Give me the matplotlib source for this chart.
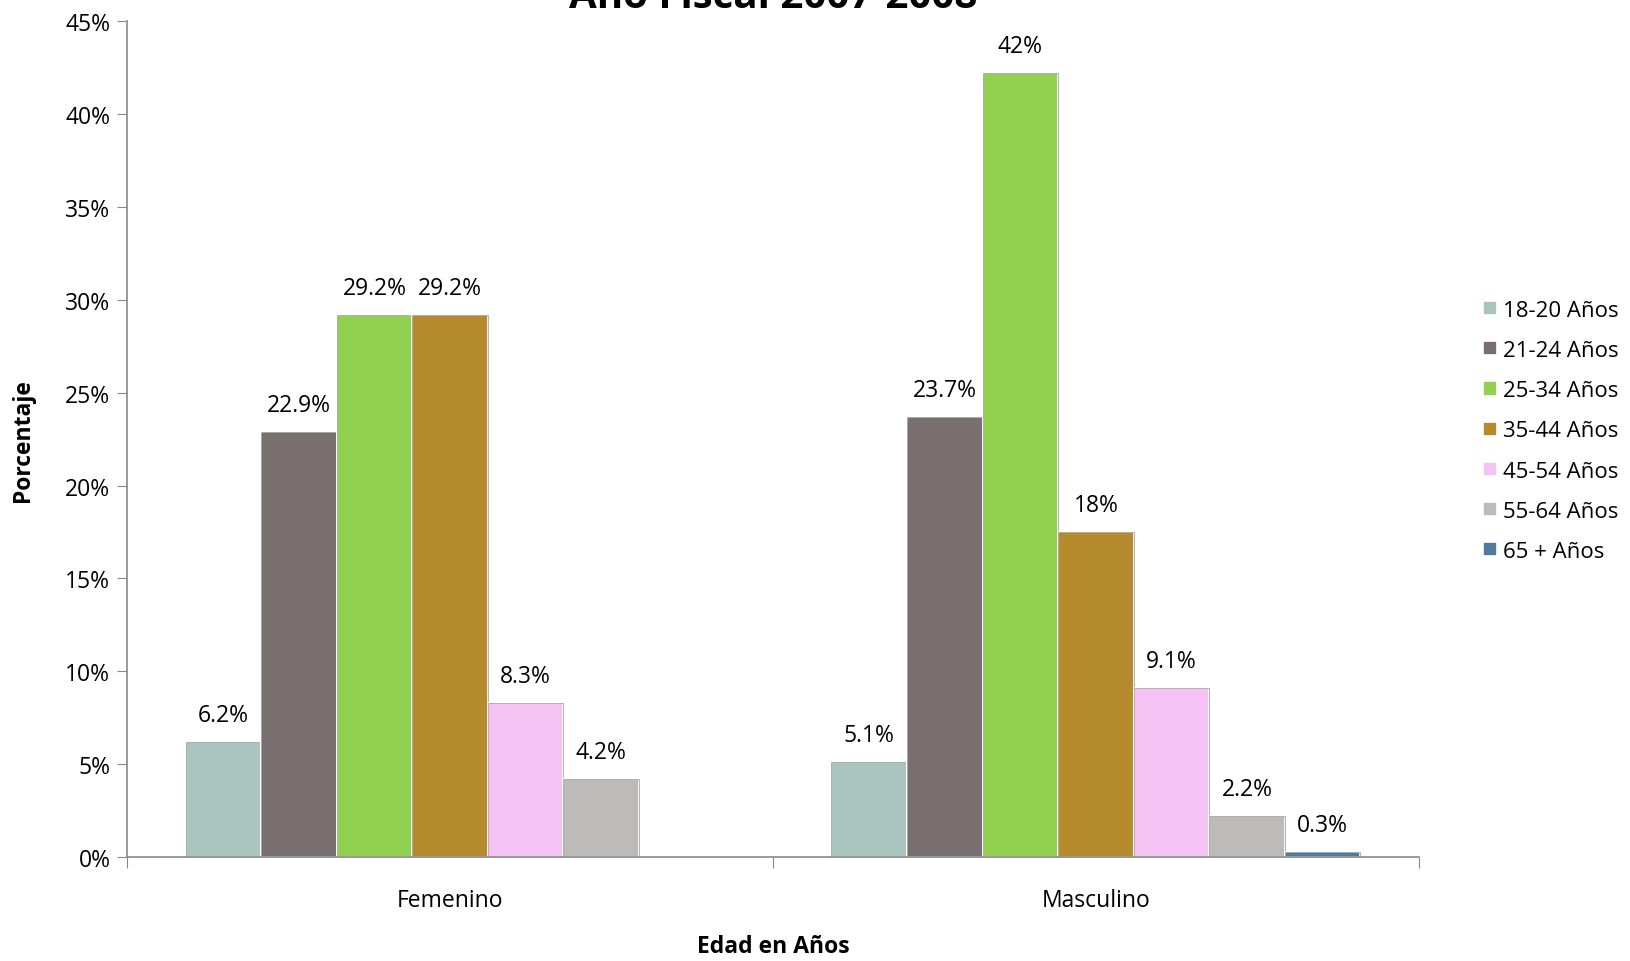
import numpy as np
import matplotlib
matplotlib.use('Agg')
import matplotlib.pyplot as plt
from matplotlib.ticker import MultipleLocator, FuncFormatter

plt.rcParams['font.family'] = ['Open Sans', 'DejaVu Sans']

# Datos
generos = ["Femenino", "Masculino"]
grupos = ["18-20 Años", "21-24 Años", "25-34 Años", "35-44 Años",
          "45-54 Años", "55-64 Años", "65 + Años"]
femenino = [6.2, 22.9, 29.2, 29.2, 8.3, 4.2, 0.0]
masculino = [5.1, 23.7, 42.2, 17.5, 9.1, 2.2, 0.3]
etiquetas_fem = ["6.2%", "22.9%", "29.2%", "29.2%", "8.3%", "4.2%", ""]
etiquetas_mas = ["5.1%", "23.7%", "42%", "18%", "9.1%", "2.2%", "0.3%"]
colores = ["#A9C4BF", "#7A6F6F", "#92D050", "#B58B2E",
           "#F5C3F3", "#BDBBB8", "#4F7BA0"]

FS = 16.5

fig = plt.figure(figsize=(16.31, 9.62), dpi=100)
ax = fig.add_axes([0.0779, 0.108, 0.792, 0.869])

x = np.arange(len(generos))
ancho = 0.117
valores = np.array([femenino, masculino])
etiquetas = [etiquetas_fem, etiquetas_mas]

for i, (grupo, color) in enumerate(zip(grupos, colores)):
    pos = x + (i - 3) * ancho
    barras = ax.bar(pos, valores[:, i], ancho, color=color, label=grupo,
                    edgecolor="#FFFFFF", linewidth=1.2)
    # contorno sombreado estilo bisel
    ax.bar(pos, valores[:, i], ancho, fill=False, edgecolor="#6E6E6E",
           linewidth=0.6, alpha=0.6)
    for b, et in zip(barras, [etiquetas[0][i], etiquetas[1][i]]):
        if et:
            ax.text(b.get_x() + b.get_width() / 2, b.get_height() + 0.8, et,
                    ha="center", va="bottom", fontsize=FS)

ax.set_xlim(-0.5, 1.5)
ax.set_ylim(0, 45)
ax.yaxis.set_major_locator(MultipleLocator(5))
ax.yaxis.set_major_formatter(FuncFormatter(lambda v, p: f"{v:.0f}%"))
ax.set_xticks([-0.5, 0.5, 1.5])
ax.set_xticklabels([])
ax.set_xticks(x, minor=True)
ax.set_xticklabels(generos, minor=True)
ax.tick_params(axis="x", which="minor", length=0, pad=22, labelsize=FS)
ax.tick_params(axis="x", which="major", length=8, color="#888888", direction="out")
ax.tick_params(axis="y", length=7, color="#888888", labelsize=FS, pad=5)

for s in ["top", "right"]:
    ax.spines[s].set_visible(False)
for s in ["left", "bottom"]:
    ax.spines[s].set_color("#888888")
    ax.spines[s].set_linewidth(1.2)

ax.set_ylabel("Porcentaje", fontsize=FS, fontweight="bold", labelpad=22)
ax.set_xlabel("Edad en Años", fontsize=FS, fontweight="bold", labelpad=16)

fig.text(0.474, 0.992, "Año Fiscal 2007-2008", ha="center", va="baseline",
         fontsize=29, fontweight="bold")

ax.legend(loc="center left", bbox_to_anchor=(0.9, 0.551), bbox_transform=fig.transFigure,
          frameon=False, fontsize=16, handlelength=0.6, handleheight=0.6,
          handletextpad=0.3, labelspacing=0.86, borderpad=0.2)

fig.savefig("out.png", dpi=100)
